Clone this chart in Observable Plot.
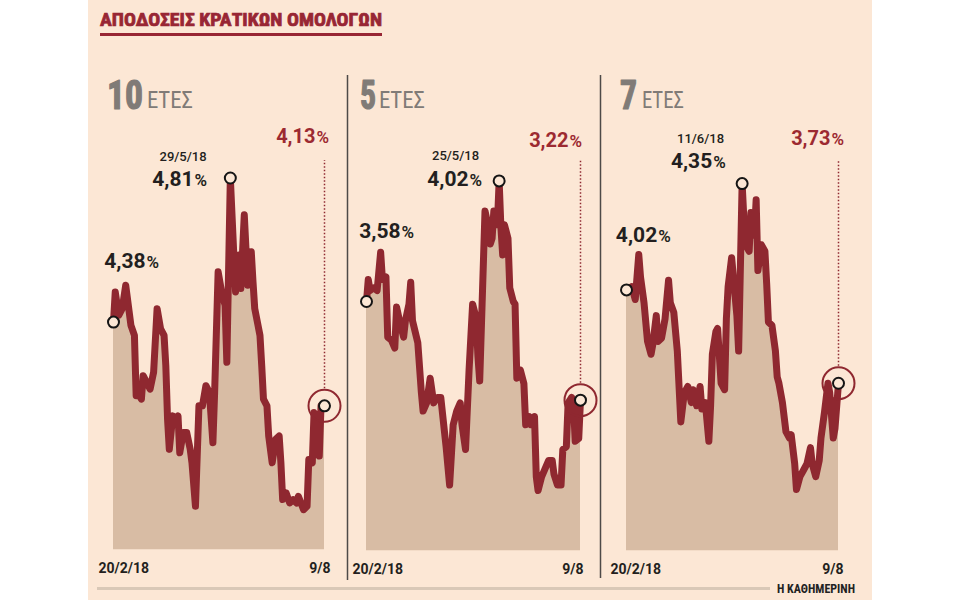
<!DOCTYPE html>
<html><head><meta charset="utf-8">
<script src="https://cdn.jsdelivr.net/npm/d3@7"></script>
<script src="https://cdn.jsdelivr.net/npm/@observablehq/plot@0.6"></script>
<style>
body{margin:0;background:#fff;}
#page{position:relative;width:960px;height:600px;overflow:hidden;background:#fff;}
#bg{position:absolute;left:88px;top:0;width:784px;height:600px;background:#FCE7D5;}
#deco{position:absolute;left:0;top:0;}
.panel{position:absolute;top:0;}
</style></head>
<body>
<div id="page"><div id="bg"></div><svg id="deco" width="960" height="600"></svg>
<div id="p0" class="panel"></div><div id="p1" class="panel"></div><div id="p2" class="panel"></div></div>
<script>
// ---------- data ----------
const titleText = "ΑΠΟΔΟΣΕΙΣ ΚΡΑΤΙΚΩΝ ΟΜΟΛΟΓΩΝ";
const sourceText = "Η ΚΑΘΗΜΕΡΙΝΗ";
const maturities = ["10", "5", "7"];
const unitLabel = "ΕΤΕΣ";
const peakDates = ["29/5/18", "25/5/18", "11/6/18"];
const tickDays = [0, 121];
const tickLabels = ["20/2/18", "9/8"];

const days10 = [0,1,3,5,7,10,12,13,14,16,17,19,21,23,25,27,29,30,31,32,34,36,37,38,40,42,44,45,47,49,51,53,55,57,58,60,62,64,65,67,69,70,72,73,75,77,79,80,81,84,85,86,88,89,91,93,95,96,97,99,101,103,105,106,109,111,112,114,115,117,118,119,121];
const yield10 = [4.38,4.47,4.40,4.42,4.49,4.37,4.34,4.16,4.17,4.15,4.22,4.20,4.18,4.23,4.42,4.36,4.34,4.25,4.09,4.00,4.10,4.08,4.10,3.99,4.05,4.05,4.00,3.96,3.83,4.13,4.13,4.19,4.17,4.02,4.17,4.53,4.47,4.43,4.26,4.81,4.58,4.47,4.58,4.48,4.70,4.49,4.59,4.50,4.42,4.34,4.25,4.15,4.13,4.04,3.96,4.03,4.04,3.96,3.85,3.87,3.84,3.85,3.84,3.86,3.82,3.83,3.97,3.96,4.11,4.09,3.98,4.13,4.13];

const days5 = [0,1,2,4,6,8,9,11,12,14,16,17,19,21,22,24,25,26,29,31,32,34,36,38,40,42,44,45,47,49,51,53,54,56,58,60,62,63,64,67,68,70,71,72,74,75,76,77,78,80,81,83,84,85,87,89,90,92,93,95,96,97,99,101,103,105,106,108,110,111,113,114,116,117,118,120,121];
const yield5 = [3.58,3.66,3.62,3.63,3.62,3.76,3.66,3.67,3.45,3.44,3.41,3.56,3.50,3.45,3.51,3.57,3.65,3.51,3.43,3.25,3.18,3.21,3.30,3.21,3.23,3.23,3.11,3.05,2.91,3.13,3.18,3.21,3.13,3.04,3.33,3.57,3.52,3.38,3.29,3.91,3.88,3.79,3.81,3.91,3.86,4.02,3.85,3.75,3.86,3.81,3.63,3.58,3.57,3.30,3.33,3.28,3.13,3.16,3.13,3.16,2.94,2.89,2.94,2.97,3.00,3.00,2.95,2.91,2.91,3.04,3.05,3.21,3.23,3.21,3.07,3.08,3.22];

const days7 = [0,1,3,5,7,8,10,12,14,15,17,18,20,22,24,25,27,29,30,31,33,35,37,38,40,42,43,45,47,48,49,51,52,54,56,57,58,60,62,63,64,66,67,69,70,71,73,74,75,77,79,80,81,83,85,86,87,89,91,93,94,96,97,99,101,103,105,106,108,110,111,113,115,116,118,119,121];
const yield7 = [4.02,4.02,4.03,3.99,4.13,4.06,3.98,3.86,3.82,3.85,3.94,3.86,3.87,3.93,4.05,3.98,3.95,3.83,3.72,3.61,3.70,3.72,3.67,3.71,3.66,3.72,3.65,3.67,3.55,3.66,3.82,3.89,3.90,3.73,3.71,3.93,4.03,4.12,4.00,3.94,3.83,4.35,4.24,4.15,4.14,4.26,4.19,4.30,4.08,4.16,4.14,4.04,3.92,3.91,3.83,3.75,3.73,3.67,3.58,3.56,3.57,3.48,3.40,3.44,3.46,3.48,3.53,3.48,3.44,3.49,3.56,3.64,3.73,3.70,3.56,3.59,3.73];

const series = [
  {days: days10, vals: yield10},
  {days: days5, vals: yield5},
  {days: days7, vals: yield7}
];

// ---------- layout / style ----------
const LINE = "#8F2830", AREA = "#D8BCA4", BG = "#FCE7D5", RED = "#9C2A31", INK = "#231F20", GREY = "#807B77";
const NARROW = "Liberation Sans Narrow, Roboto Condensed, Roboto, sans-serif";
const layout = [
  {left: 88, width: 260, x0: 113, x1: 324, ref: 4.44, refPx: 301.47, k: 335, base: 3.70,
   start: [32, -53.6], peak: [-36.8, 7.5], date: [-47.3, -17.5], last: [-9, -262.6], tick: [-15, 6],
   head: [107, 36, 147, 46]},
  {left: 348, width: 252, x0: 366, x1: 580, ref: 3.58, refPx: 301, k: 274, base: 2.67,
   start: [34, -63.7], peak: [-30.6, 4.6], date: [-43.6, -21], last: [-12, -253.3], tick: [-14, 3],
   head: [360, 16, 379, 46]},
  {left: 600, width: 272, x0: 626, x1: 838, ref: 4.0333, refPx: 285.1, k: 322, base: 3.21,
   start: [30.7, -47.7], peak: [-29.9, -15.8], date: [-41.6, -40.4], last: [-8, -238.7], tick: [-16, 5],
   head: [620, 17, 642, 42]}
];

// ---------- decoration (title, headers, rules) ----------
let deco = `
<text x="100" y="26" font-family="${NARROW}" font-weight="bold" font-size="18" fill="#982634" stroke="#982634" stroke-width="0.7" textLength="282" lengthAdjust="spacingAndGlyphs">${titleText}</text>
<rect x="100" y="33" width="282" height="3" fill="#982634"/>
<line x1="347.5" x2="347.5" y1="75" y2="580" stroke="#4d4a48" stroke-width="1.5"/>
<line x1="600.5" x2="600.5" y1="75" y2="578" stroke="#4d4a48" stroke-width="1.5"/>
<rect x="97" y="587" width="673" height="3" fill="#D9C8B7"/>
<text x="777" y="593" font-family="${NARROW}" font-weight="bold" font-size="12" fill="#222" textLength="78" lengthAdjust="spacingAndGlyphs">${sourceText}</text>`;
layout.forEach((L, i) => {
  const [nx, nw, ux, uw] = L.head;
  deco += `<text x="${nx}" y="109" font-family="${NARROW}" font-weight="bold" font-size="40" fill="${GREY}" stroke="${GREY}" stroke-width="1.2" stroke-linejoin="round" textLength="${nw}" lengthAdjust="spacingAndGlyphs">${maturities[i]}</text>`;
  deco += `<text x="${ux}" y="108" font-family="${NARROW}" font-weight="normal" font-size="24" fill="${GREY}" textLength="${uw}" lengthAdjust="spacingAndGlyphs">${unitLabel}</text>`;
});
document.getElementById("deco").innerHTML = deco;

// ---------- panels ----------
const fmt = v => v.toFixed(2).replace(".", ",");

series.forEach((s, i) => {
  const L = layout[i];
  const px = v => L.refPx - L.k * (v - L.ref);
  const val = p => L.ref - (p - L.refPx) / L.k;
  const data = s.days.map((d, j) => ({d, v: s.vals[j]}));
  const first = data[0], last = data[data.length - 1];
  const peak = d3.greatest(data, d => d.v);
  const top = peak.v;
  const ticks = tickDays.map((d, j) => ({d, label: tickLabels[j]}));
  const num = {x: "d", y: "v", lineAnchor: "bottom", fontFamily: "Roboto", fontWeight: 700};
  const pct = (arr, dxy, color) => Plot.text(arr, {...num, text: () => "%", textAnchor: "start", dx: dxy[0] + 1, dy: dxy[1], fontSize: 17, fontWeight: 600, fill: color});
  const plot = Plot.plot({
    width: L.width, height: 600, margin: 0,
    x: {domain: d3.extent(tickDays), range: [L.x0 - L.left, L.x1 - L.left], axis: null},
    y: {domain: [L.base, top], range: [px(L.base), px(top)], axis: null},
    style: {background: "transparent", overflow: "visible"},
    marks: [
      Plot.areaY(data, {x: "d", y1: L.base, y2: "v", fill: AREA}),
      Plot.line(data, {x: "d", y: "v", stroke: LINE, strokeWidth: 7, strokeLinejoin: "round", strokeLinecap: "round"}),
      Plot.ruleX([last], {x: "d", y1: val(px(last.v) - 17), y2: val(160), stroke: LINE, strokeWidth: 1.5, strokeDasharray: "1.5 2"}),
      Plot.dot([last], {x: "d", y: "v", r: 16, stroke: LINE, strokeWidth: 2, fill: "none"}),
      Plot.dot([first, peak, last], {x: "d", y: "v", r: 5.5, stroke: "#151515", strokeWidth: 2, fill: BG}),
      // first value
      Plot.text([first], {...num, text: d => fmt(d.v), textAnchor: "end", dx: L.start[0], dy: L.start[1], fontSize: 21, fill: INK}),
      pct([first], L.start, INK),
      // peak value + date
      Plot.text([peak], {...num, text: d => fmt(d.v), textAnchor: "end", dx: L.peak[0], dy: L.peak[1], fontSize: 21, fill: INK}),
      pct([peak], L.peak, INK),
      Plot.text([peak], {...num, text: () => peakDates[i], textAnchor: "middle", dx: L.date[0], dy: L.date[1], fontSize: 13, fontWeight: 500, fill: INK}),
      // last value
      Plot.text([last], {...num, text: d => fmt(d.v), textAnchor: "end", dx: L.last[0], dy: L.last[1], fontSize: 20, fill: RED}),
      pct([last], L.last, RED),
      // axis labels
      Plot.text([ticks[0]], {x: "d", y: L.base, text: "label", lineAnchor: "bottom", textAnchor: "start", dx: L.tick[0], dy: 23, fontSize: 14, fontWeight: 700, fontFamily: "Roboto", fill: INK}),
      Plot.text([ticks[1]], {x: "d", y: L.base, text: "label", lineAnchor: "bottom", textAnchor: "end", dx: L.tick[1], dy: 23, fontSize: 14, fontWeight: 700, fontFamily: "Roboto", fill: INK})
    ]
  });
  const host = document.getElementById("p" + i);
  host.style.left = L.left + "px";
  host.append(plot);
});
</script>
</body></html>
